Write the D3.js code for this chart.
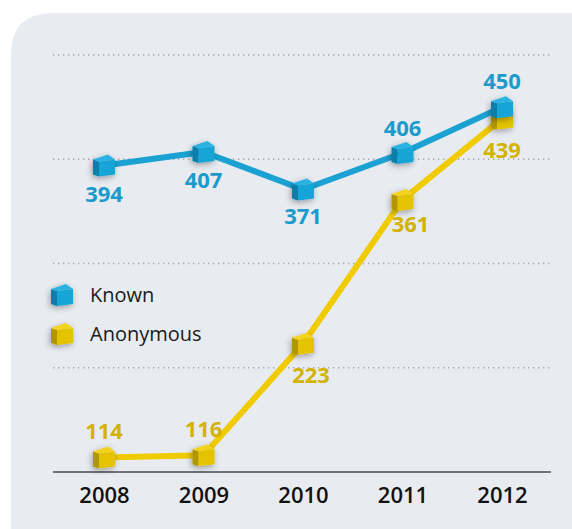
<!DOCTYPE html>
<html>
<head>
<meta charset="utf-8">
<script src="https://cdn.jsdelivr.net/npm/d3@7"></script>
<style>
  html, body { margin: 0; padding: 0; background: #fff; }
  svg text { font-family: "Open Sans", sans-serif; }
</style>
</head>
<body>
<div id="graf"></div>
<script>
// data
const years = ["2008", "2009", "2010", "2011", "2012"]
const known = [394, 407, 371, 406, 450]
const anonymous = [114, 116, 223, 361, 439]
const gridValues = [100, 200, 300, 400, 500]
const seriesNames = ["Known", "Anonymous"]

const draw = () => {
  const anchoTotal = 572
  const altoTotal = 529

  const svg = d3.select("#graf")
    .append("svg")
    .attr("width", anchoTotal)
    .attr("height", altoTotal)

  // filtro sombra
  const defs = svg.append("defs")
  defs.append("filter")
    .attr("id", "sombra")
    .attr("x", "-80%").attr("y", "-80%")
    .attr("width", "260%").attr("height", "260%")
    .append("feDropShadow")
    .attr("dx", -1).attr("dy", 2)
    .attr("stdDeviation", 3)
    .attr("flood-color", "#000")
    .attr("flood-opacity", 0.35)

  // panel de fondo con esquina redondeada
  const px = 11, py = 13, r = 42
  svg.append("path")
    .attr("d", `M${px},${altoTotal + 5} L${px},${py + r} Q${px},${py} ${px + r},${py} L${anchoTotal + 5},${py} L${anchoTotal + 5},${altoTotal + 5} Z`)
    .attr("fill", "#e8ebf0")

  // escaladores
  const x = d3.scalePoint().domain(years).range([104, 502])
  const y = d3.scaleLinear().domain([100, 500]).range([472, 55])

  const colores = {
    Known: { line: "#1ba2d2", front: "#12a5d6", side: "#0a7ea8", top: "#2ab3e2", text: "#1a9bcb" },
    Anonymous: { line: "#f0cb00", front: "#e4c300", side: "#b09600", top: "#f3d31a", text: "#d3b300" }
  }

  // rejilla punteada
  svg.append("g")
    .selectAll("line")
    .data(gridValues.filter((d) => d > 100))
    .join("line")
    .attr("x1", 53).attr("x2", 551)
    .attr("y1", (d) => y(d)).attr("y2", (d) => y(d))
    .attr("stroke", "#a3a7ad")
    .attr("stroke-width", 1.3)
    .attr("stroke-dasharray", "1.3 3.7")

  // eje x
  const xAxis = d3.axisBottom(x).tickSize(0).tickPadding(15)
  const xAxisGroup = svg.append("g")
    .attr("transform", `translate(0, ${y(100)})`)
    .call(xAxis)
  xAxisGroup.select(".domain").remove()
  xAxisGroup.append("line")
    .attr("x1", 53).attr("x2", 551)
    .attr("stroke", "#707377")
    .attr("stroke-width", 2)
  xAxisGroup.selectAll(".tick text")
    .attr("font-size", 22)
    .attr("font-weight", 600)
    .attr("fill", "#111")
    .attr("font-family", "Open Sans")

  // cubo
  const cubo = (g, c) => {
    g.append("polygon")
      .attr("points", "-11,-6 -5,-4 -5,11 -11,9")
      .attr("fill", c.side)
    g.append("polygon")
      .attr("points", "-5,-4 11,-6 11,9 -5,11")
      .attr("fill", c.front)
    g.append("polygon")
      .attr("points", "-11,-6 -5,-4 11,-6 4,-11")
      .attr("fill", c.top)
  }

  const line = d3.line()
    .x((d, i) => x(years[i]))
    .y((d) => y(d))

  const series = [
    { name: "Anonymous", values: anonymous,
      pos: [[0, -26], [0, -26], [8, 31], [8, 24], [0, 31]] },
    { name: "Known", values: known,
      pos: [[0, 29], [0, 28], [0, 27], [0, -25], [0, -26]] }
  ]

  series.forEach((s) => {
    const c = colores[s.name]
    const g = svg.append("g")
    g.append("path")
      .attr("d", line(s.values))
      .attr("fill", "none")
      .attr("stroke", c.line)
      .attr("stroke-width", 6)
      .attr("stroke-linejoin", "round")

    g.selectAll(".cubo")
      .data(s.values)
      .join("g")
      .attr("class", "cubo")
      .attr("transform", (d, i) => `translate(${x(years[i])}, ${y(d)})`)
      .attr("filter", "url(#sombra)")
      .each(function () { cubo(d3.select(this), c) })

    g.selectAll(".valor")
      .data(s.values)
      .join("text")
      .attr("class", "valor")
      .attr("x", (d, i) => x(years[i]) + s.pos[i][0])
      .attr("y", (d, i) => y(d) + s.pos[i][1])
      .attr("dy", "0.36em")
      .attr("text-anchor", "middle")
      .attr("font-size", 22)
      .attr("font-weight", 700)
      .attr("fill", c.text)
      .text((d) => d)
  })

  // leyenda
  const legend = svg.append("g")
    .selectAll("g")
    .data(seriesNames)
    .join("g")
    .attr("transform", (d, i) => `translate(62, ${295 + i * 39})`)
  legend.append("g")
    .attr("filter", "url(#sombra)")
    .each(function (d) { cubo(d3.select(this), colores[d]) })
  legend.append("text")
    .attr("x", 28)
    .attr("dy", "0.36em")
    .attr("font-size", 20)
    .attr("fill", "#1a1a1a")
    .text((d) => d)
}

draw()
</script>
</body>
</html>
